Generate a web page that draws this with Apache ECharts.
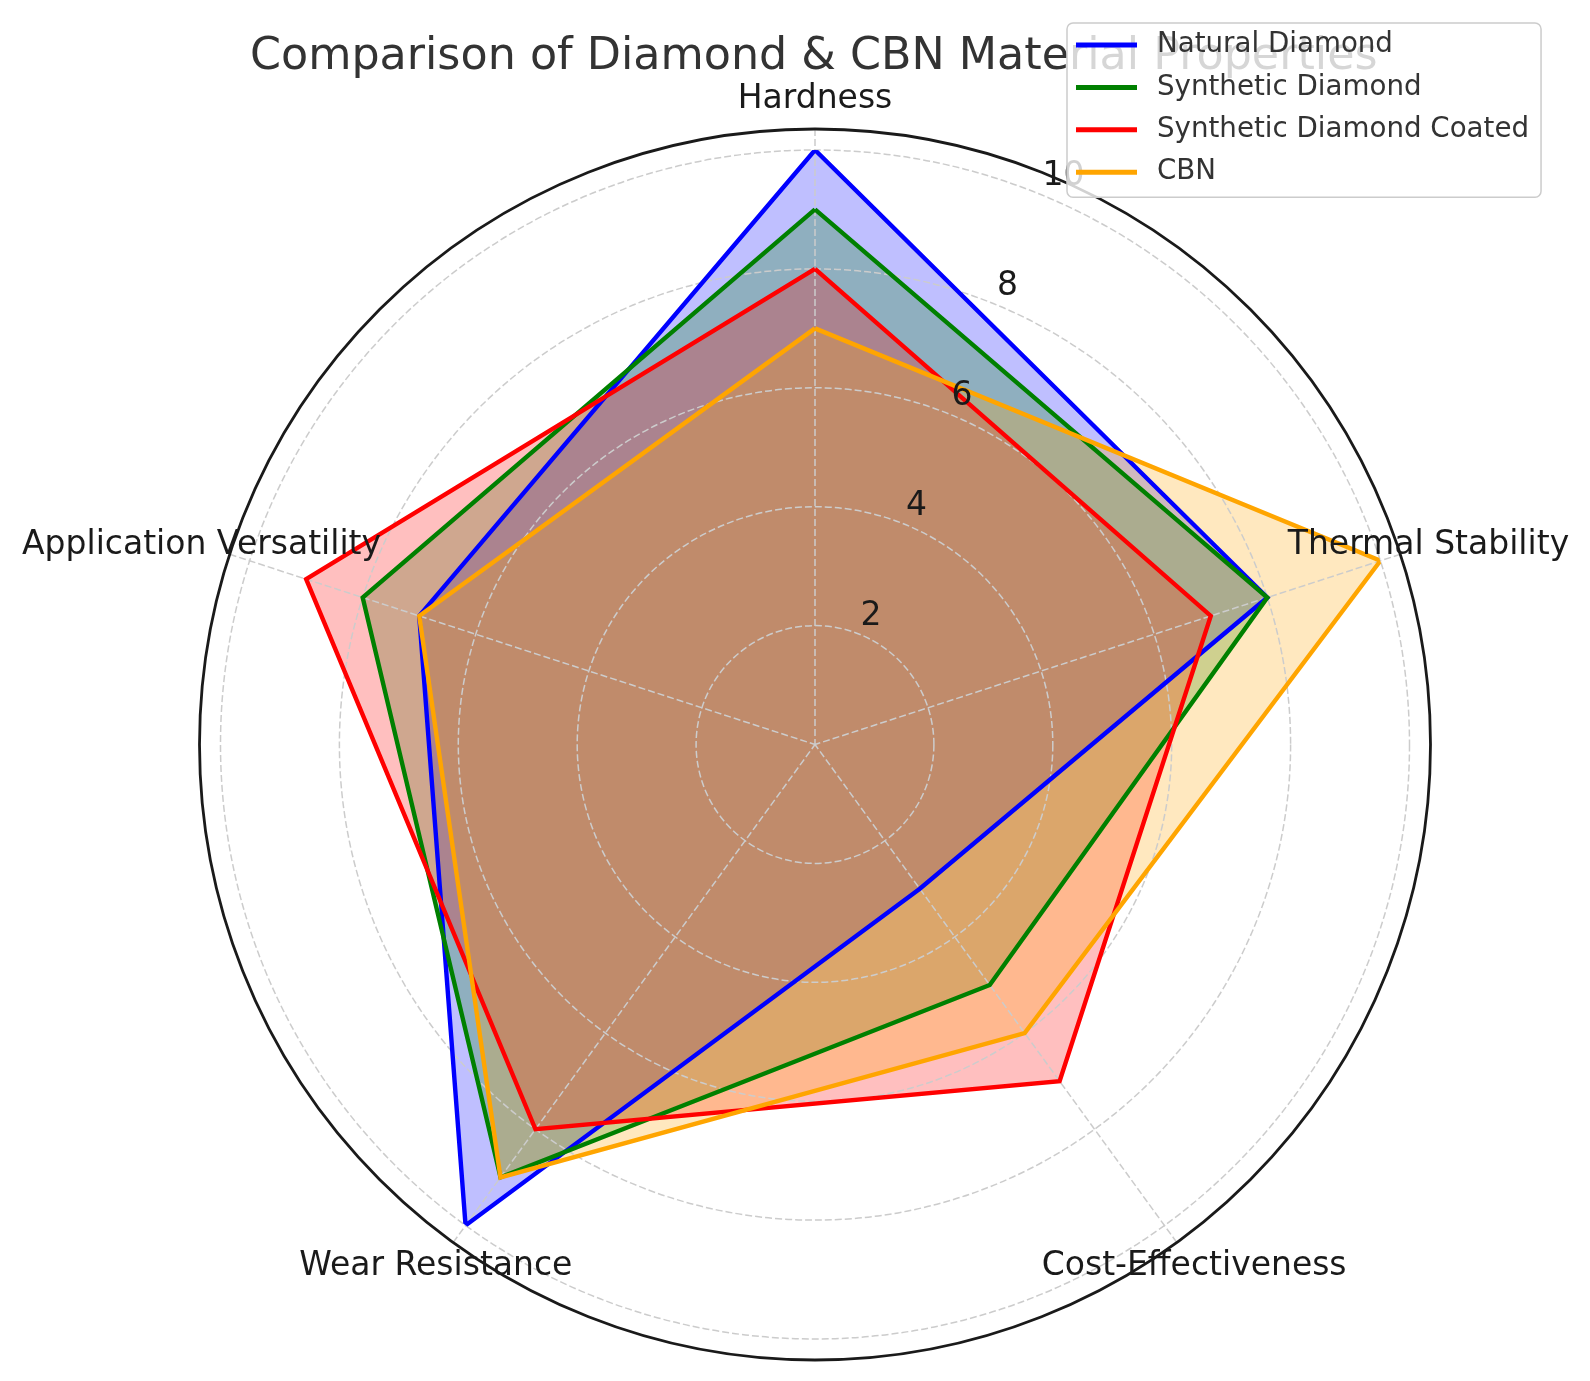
<!DOCTYPE html>
<html><head><meta charset="utf-8">
<script src="https://cdn.jsdelivr.net/npm/echarts@6/dist/echarts.min.js"></script>
<style>html,body{margin:0;padding:0;background:#fff}#c{width:1590px;height:1381px}</style>
</head><body><div id="c"></div>
<script>
const categories = ['Hardness', 'Thermal Stability', 'Cost-Effectiveness', 'Wear Resistance', 'Application Versatility'];
const seriesNames = ['Natural Diamond', 'Synthetic Diamond', 'Synthetic Diamond Coated', 'CBN'];
const naturalDiamond = [10, 8, 3, 10, 7];
const syntheticDiamond = [9, 8, 5, 9, 8];
const syntheticDiamondCoated = [8, 7, 7, 8, 9];
const cbn = [7, 10, 6, 9, 7];
const radialTicks = [2, 4, 6, 8, 10];

const seriesValues = [naturalDiamond, syntheticDiamond, syntheticDiamondCoated, cbn];
const colors = ['#0000ff', '#008000', '#ff0000', '#ffa500'];
const FONT = 'DejaVu Sans';
const CX = 815, CY = 744.5, R10 = 594.5, ROUT = 615.5;
const step = 360 / categories.length;

function closed(vals) {
  const pts = vals.map((v, i) => [v, i * step]);
  pts.push([vals[0], 360]);
  return pts;
}

const gridLine = { color: '#cccccc', type: [7, 3], width: 1.5 };
const series = [];

// fills (below grid)
seriesValues.forEach((vals, k) => series.push({
  type: 'line', name: seriesNames[k], coordinateSystem: 'polar', polarIndex: 0,
  data: closed(vals), symbol: 'none', clip: false, silent: true,
  lineStyle: { width: 0, opacity: 0 },
  itemStyle: { color: colors[k] },
  areaStyle: { color: colors[k], opacity: 0.25 },
  z: 1
}));

// outlines (above grid)
seriesValues.forEach((vals, k) => series.push({
  type: 'line', name: seriesNames[k], coordinateSystem: 'polar', polarIndex: 0,
  data: closed(vals), symbol: 'none', clip: false,
  lineStyle: { color: colors[k], width: 4.4, join: 'miter' },
  itemStyle: { color: colors[k] },
  z: 3
}));

series.push({
  type: 'scatter', coordinateSystem: 'polar', polarIndex: 0,
  symbolSize: 0, clip: false, silent: true, z: 5,
  itemStyle: { opacity: 1 },
  data: categories.map((c, i) => ({ name: c, value: [10.85, i * step] })),
  label: { show: true, position: 'inside', formatter: '{b}', fontSize: 33, color: '#1a1a1a', opacity: 1, fontFamily: FONT }
});

series.push({
  type: 'scatter', coordinateSystem: 'polar', polarIndex: 0,
  symbolSize: 0, clip: false, silent: true, z: 5,
  itemStyle: { opacity: 1 },
  data: radialTicks.map(v => ({ name: String(v), value: [v, 22.5] })),
  label: { show: true, position: 'inside', formatter: '{b}', align: 'left', offset: [0, -18.5],
    fontSize: 33, color: '#1a1a1a', opacity: 1, fontFamily: FONT }
});

const hidden = { axisLine: { show: false }, axisTick: { show: false }, axisLabel: { show: false }, splitLine: { show: false } };

const chart = echarts.init(document.getElementById('c'));
chart.setOption({
  animation: false,
  backgroundColor: '#ffffff',
  title: {
    text: 'Comparison of Diamond & CBN Material Properties',
    left: 250, top: 35, padding: 0, z: 1,
    textStyle: { fontSize: 44.4, fontWeight: 'normal', color: '#333333', fontFamily: FONT }
  },
  legend: {
    data: seriesNames,
    orient: 'vertical', left: 1067, top: 23, z: 10,
    icon: 'rect', itemWidth: 61, itemHeight: 5, itemGap: 12.4,
    padding: [7, 12, 10, 9],
    backgroundColor: 'rgba(255,255,255,0.8)', borderColor: '#cccccc', borderWidth: 1.5, borderRadius: 6,
    selectedMode: false,
    textStyle: { fontSize: 27.7, color: '#333333', fontFamily: FONT, lineHeight: 30, padding: [0, 0, 0, 15] }
  },
  polar: [
    { center: [CX, CY], radius: R10 },
    { center: [CX, CY], radius: ROUT },
    { center: [CX, CY], radius: ROUT }
  ],
  angleAxis: [
    Object.assign({ polarIndex: 0, type: 'value', min: 0, max: 360, interval: step, startAngle: 90, clockwise: true, z: 2 }, hidden),
    Object.assign({ polarIndex: 1, type: 'value', min: 0, max: 360, interval: step, startAngle: 90, clockwise: true, z: 4 }, hidden,
      { axisLine: { show: true, lineStyle: { color: '#1a1a1a', width: 2.8 } } }),
    Object.assign({ polarIndex: 2, type: 'value', min: 0, max: 360, interval: step, startAngle: 90, clockwise: true, z: 2 }, hidden,
      { splitLine: { show: true, lineStyle: gridLine } })
  ],
  radiusAxis: [
    Object.assign({ polarIndex: 0, type: 'value', min: 0, max: 10, interval: 2, z: 2 }, hidden,
      { splitLine: { show: true, lineStyle: gridLine } }),
    Object.assign({ polarIndex: 1, type: 'value', min: 0, max: 10.35 }, hidden),
    Object.assign({ polarIndex: 2, type: 'value', min: 0, max: 10.35 }, hidden)
  ],
  series: series
});
</script>
</body></html>
